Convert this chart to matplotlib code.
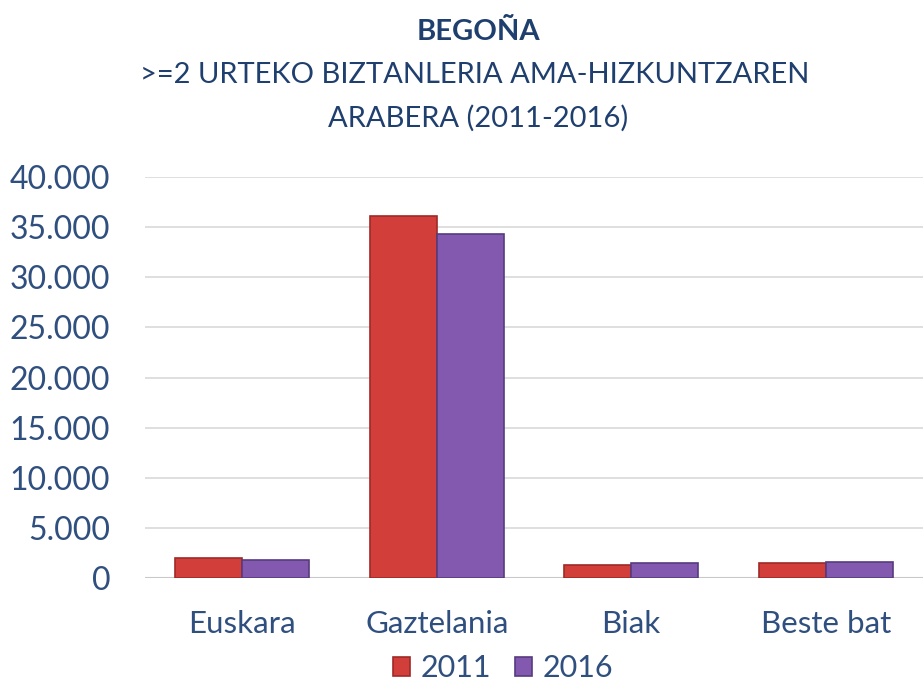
import matplotlib.pyplot as plt
import numpy as np
from matplotlib.ticker import FuncFormatter

categories = ['Euskara', 'Gaztelania', 'Biak', 'Beste bat']
values_2011 = [2000, 36100, 1330, 1460]
values_2016 = [1800, 34350, 1460, 1630]
years = ['2011', '2016']

plt.rcParams['font.family'] = ['Lato', 'DejaVu Sans']
text_col = '#2F4F7F'
title_col = '#1F3F6F'

fig = plt.figure(figsize=(9.23, 6.86), dpi=100)
ax = fig.add_axes([0.157, 0.1574, 0.843, 0.5846])

x = np.arange(len(categories))
w = 0.345
ax.bar(x - w/2, values_2011, w, color='#D23F3A', edgecolor='#9E2A26', linewidth=1.2,
       label=years[0], zorder=3)
ax.bar(x + w/2, values_2016, w, color='#8259AE', edgecolor='#573B7E', linewidth=1.2,
       label=years[1], zorder=3)

ax.set_xlim(-0.5, 3.5)
ax.set_ylim(0, 40000)
ax.set_yticks(range(0, 40001, 5000))
ax.yaxis.set_major_formatter(FuncFormatter(lambda v, p: f'{int(v):,}'.replace(',', '.')))
ax.set_xticks(x)
ax.set_xticklabels(categories)
ax.grid(axis='y', color='#D9D9D9', linewidth=1.2, zorder=0)
ax.axhline(0, color='#C8C8C8', linewidth=1.5, zorder=2)
for s in ax.spines.values():
    s.set_visible(False)
ax.tick_params(axis='y', length=0, pad=25, labelsize=23, labelcolor=text_col)
ax.tick_params(axis='x', length=0, pad=23, labelsize=22.5, labelcolor=text_col)

fig.text(0.518, 0.953, 'BEGOÑA', ha='center', va='center', fontsize=21,
         fontweight='bold', color=title_col)
fig.text(0.514, 0.890, '>=2 URTEKO BIZTANLERIA AMA-HIZKUNTZAREN', ha='center',
         va='center', fontsize=21, color=title_col)
fig.text(0.518, 0.828, 'ARABERA (2011-2016)', ha='center', va='center',
         fontsize=21, color=title_col)

fig.legend(loc='center', bbox_to_anchor=(0.545, 0.026), ncol=2, frameon=False,
           fontsize=22, handlelength=0.55, handleheight=0.55, handletextpad=0.35,
           columnspacing=0.8, labelcolor=text_col)

fig.savefig('out.png', dpi=100)
